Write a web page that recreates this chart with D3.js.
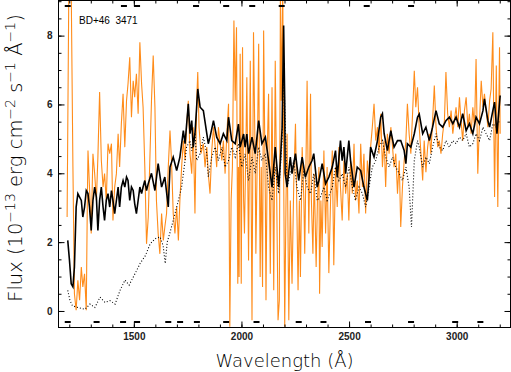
<!DOCTYPE html>
<html>
<head>
<meta charset="utf-8">
<script src="https://cdn.jsdelivr.net/npm/d3@7"></script>
<style>
  body { margin: 0; background: #fff; }
  svg { display: block; }
</style>
</head>
<body>
<svg width="511" height="372"></svg>
<script>
// wavelength (A), flux (1e-13 erg cm-2 s-1 A-1)
const fluxOrange = [
  [1190,2.73],[1198,9.4],[1209,9.4],[1217,4.18],[1224,0.50],[1232,0.02],[1240,0.89],[1248,0.31],
  [1256,1.28],[1263,0.70],[1271,1.08],[1279,0.02],[1284,3.21],[1287,4.66],[1294,3.60],[1302,2.25],
  [1310,4.57],[1318,3.99],[1326,3.21],[1333,4.47],[1341,6.36],[1349,4.37],[1357,3.60],[1364,3.99],
  [1372,3.21],[1380,4.86],[1388,4.57],[1396,4.86],[1403,2.63],[1411,3.60],[1419,3.99],[1427,5.15],
  [1434,4.18],[1442,5.44],[1450,6.31],[1458,4.76],[1466,6.11],[1473,6.60],[1481,7.37],[1489,5.63],
  [1497,6.69],[1504,6.21],[1512,6.89],[1520,5.73],[1528,7.81],[1536,6.60],[1543,5.92],[1551,4.18],
  [1559,1.95],[1567,2.73],[1574,4.30],[1582,6.11],[1590,7.42],[1598,5.92],[1605,3.21],[1613,2.25],
  [1621,1.66],[1629,2.83],[1637,2.05],[1644,2.44],[1652,2.83],[1660,4.18],[1668,5.24],[1675,4.37],
  [1683,2.83],[1691,2.25],[1699,3.02],[1707,2.05],[1714,3.21],[1722,4.18],[1730,4.95],[1738,4.37],
  [1745,5.34],[1753,6.11],[1761,4.57],[1769,3.99],[1776,5.34],[1784,2.83],[1792,6.11],[1797,6.94],
  [1803,5.34],[1812,4.57],[1823,4.86],[1831,4.18],[1839,4.76],[1846,3.99],[1854,3.41],[1862,4.66],
  [1870,5.34],[1878,4.76],[1885,4.18],[1893,5.34],[1901,4.86],[1909,4.37],[1916,4.95],[1924,3.99],
  [1932,5.15],[1940,6.02],[1946,-0.46],[1952,3.21],[1958,4.18],[1965,8.44],[1971,6.11],[1977,8.24],
  [1983,0.79],[1986,4.18],[1989,0.99],[1994,7.47],[1999,0.79],[2005,7.66],[2010,3.21],[2014,2.25],
  [2021,4.95],[2025,6.79],[2033,1.47],[2041,7.27],[2049,-0.27],[2056,8.10],[2064,4.18],[2067,1.66],
  [2075,5.15],[2080,7.76],[2087,0.99],[2092,4.18],[2098,0.70],[2103,8.15],[2111,3.21],[2114,0.31],
  [2120,4.66],[2126,6.31],[2134,1.08],[2142,6.50],[2150,0.60],[2157,7.27],[2164,3.21],[2170,-0.27],
  [2176,0.31],[2181,9.4],[2185,6.11],[2192,9.4],[2196,4.18],[2201,-0.46],[2207,3.21],[2212,5.15],
  [2220,-0.27],[2227,3.21],[2235,0.79],[2243,3.70],[2251,5.44],[2258,2.73],[2263,0.60],[2269,3.21],
  [2274,0.99],[2282,4.76],[2290,3.21],[2294,1.66],[2305,6.69],[2313,2.25],[2321,6.31],[2325,3.21],
  [2332,1.66],[2338,3.99],[2347,1.28],[2353,3.21],[2360,4.18],[2363,0.50],[2369,3.21],[2375,1.86],
  [2383,4.66],[2391,2.25],[2398,4.18],[2406,1.10],[2414,3.21],[2422,4.66],[2429,1.33],[2437,4.18],
  [2445,3.02],[2453,4.76],[2460,3.60],[2468,2.63],[2476,4.37],[2484,3.41],[2492,3.99],[2499,2.63],
  [2507,4.37],[2515,3.41],[2523,4.86],[2530,3.21],[2538,3.79],[2546,2.83],[2554,4.86],[2562,3.60],
  [2569,4.57],[2577,2.83],[2585,4.37],[2593,3.79],[2600,4.76],[2608,5.34],[2616,6.02],[2624,4.95],
  [2632,5.34],[2639,4.57],[2647,5.73],[2655,4.18],[2663,4.95],[2670,3.60],[2678,5.15],[2686,4.57],
  [2694,5.34],[2702,4.76],[2709,4.18],[2717,4.57],[2725,3.41],[2733,4.37],[2740,2.44],[2748,3.60],
  [2756,4.37],[2764,4.95],[2771,6.02],[2779,5.15],[2787,4.57],[2795,5.73],[2803,6.98],[2810,5.92],
  [2818,6.50],[2826,5.34],[2834,4.57],[2842,3.79],[2849,4.95],[2857,4.03],[2865,4.76],[2873,5.15],
  [2880,4.57],[2888,5.53],[2896,6.55],[2904,5.34],[2912,4.76],[2919,4.95],[2927,4.57],[2935,5.15],
  [2943,5.53],[2950,6.94],[2958,5.73],[2966,5.34],[2974,5.82],[2982,5.15],[2989,5.53],[2997,5.92],
  [3005,5.34],[3013,6.21],[3020,5.53],[3028,4.95],[3036,5.82],[3044,6.21],[3052,5.34],[3059,5.73],
  [3067,5.15],[3075,5.92],[3083,5.34],[3090,7.32],[3098,3.99],[3106,5.53],[3114,6.69],[3122,5.92],
  [3129,6.31],[3137,5.82],[3145,5.34],[3153,6.11],[3160,6.45],[3168,8.10],[3176,3.31],[3184,7.13],
  [3191,3.02],[3196,6.11],[3199,7.66],[3202,5.15]
];

const fluxSolid = [
  [1193,2.05],[1201,1.47],[1209,0.79],[1217,0.70],[1224,1.28],[1232,3.02],[1240,3.41],[1248,3.31],
  [1256,3.21],[1263,2.73],[1271,3.02],[1279,3.50],[1287,3.41],[1294,3.02],[1302,2.34],[1310,3.21],
  [1318,3.60],[1326,3.31],[1333,2.34],[1341,3.21],[1349,3.60],[1357,3.02],[1364,2.63],[1372,3.21],
  [1380,3.41],[1388,3.02],[1396,3.50],[1403,3.21],[1411,2.83],[1419,3.21],[1427,3.60],[1434,3.02],
  [1442,3.60],[1450,3.79],[1458,3.60],[1466,3.89],[1473,3.79],[1481,3.21],[1489,3.60],[1497,3.50],
  [1504,3.12],[1512,2.83],[1520,3.21],[1528,3.60],[1536,3.41],[1543,3.60],[1551,3.79],[1559,3.50],
  [1567,3.70],[1582,4.00],[1598,3.50],[1613,4.28],[1629,3.60],[1644,3.89],[1660,3.02],[1668,4.18],
  [1683,4.47],[1699,4.08],[1714,4.47],[1730,5.24],[1738,4.86],[1753,6.02],[1761,5.15],[1769,5.53],
  [1776,4.76],[1784,5.15],[1797,6.45],[1808,5.92],[1823,5.82],[1839,5.15],[1846,4.86],[1854,5.05],
  [1870,5.53],[1885,5.05],[1901,4.86],[1916,5.15],[1932,4.95],[1940,5.63],[1955,4.95],[1971,4.86],
  [1986,5.43],[1994,4.76],[2010,5.14],[2017,4.76],[2025,5.14],[2033,4.57],[2049,5.05],[2064,4.57],
  [2080,5.53],[2095,4.86],[2111,5.05],[2126,4.37],[2142,3.60],[2157,4.76],[2173,3.60],[2181,4.37],
  [2189,5.34],[2196,8.29],[2201,6.11],[2203,4.00],[2212,3.60],[2227,4.47],[2235,3.99],[2251,4.57],
  [2266,3.79],[2282,4.47],[2297,3.89],[2313,4.18],[2328,4.37],[2336,4.57],[2352,3.60],[2360,3.79],
  [2375,4.28],[2391,3.70],[2406,3.89],[2422,4.18],[2437,4.66],[2445,3.89],[2460,4.95],[2468,4.37],
  [2476,4.76],[2484,3.99],[2499,4.95],[2507,4.37],[2523,3.60],[2538,4.18],[2554,4.08],[2569,3.60],
  [2585,3.21],[2593,3.89],[2600,4.76],[2616,4.47],[2632,4.95],[2647,5.63],[2655,5.73],[2663,5.15],
  [2678,4.66],[2694,5.24],[2709,4.76],[2725,4.95],[2740,4.95],[2756,4.66],[2764,4.28],[2771,4.86],
  [2787,4.76],[2803,5.15],[2818,5.63],[2826,5.72],[2842,5.15],[2857,5.34],[2873,4.95],[2888,5.34],
  [2904,5.82],[2919,5.44],[2935,5.34],[2950,5.53],[2966,5.63],[2982,5.44],[2997,5.63],[3013,5.34],
  [3028,5.73],[3044,5.24],[3059,5.44],[3075,5.15],[3090,5.63],[3106,5.44],[3122,5.82],[3129,6.16],
  [3145,5.53],[3153,5.34],[3168,5.82],[3176,6.07],[3187,5.15],[3196,5.82],[3202,6.26]
];

const fluxDotted = [
  [1193,0.60],[1203,0.31],[1215,0.15],[1240,0.10],[1273,0.05],[1296,0.20],[1319,0.10],[1343,0.40],
  [1366,0.25],[1389,0.30],[1413,0.20],[1436,0.60],[1459,0.90],[1478,0.75],[1497,0.98],[1515,1.20],
  [1529,1.38],[1553,1.60],[1576,1.95],[1599,2.10],[1622,2.15],[1636,1.90],[1646,1.38],[1655,2.00],
  [1669,2.30],[1683,2.63],[1707,3.21],[1722,3.60],[1730,3.99],[1738,4.37],[1745,4.76],[1761,4.95],
  [1769,4.66],[1784,5.15],[1792,4.37],[1808,4.57],[1823,5.05],[1839,4.57],[1846,3.89],[1862,4.47],
  [1878,4.76],[1893,4.37],[1909,4.76],[1924,4.18],[1940,4.37],[1955,4.76],[1971,4.47],[1986,4.86],
  [2002,4.18],[2017,4.57],[2033,3.79],[2049,4.47],[2064,3.99],[2080,4.76],[2095,4.37],[2111,4.57],
  [2126,3.60],[2142,3.21],[2157,4.18],[2173,3.41],[2189,4.95],[2196,7.08],[2212,3.60],[2227,3.99],
  [2243,4.37],[2258,3.60],[2274,3.21],[2290,4.08],[2305,3.60],[2321,3.41],[2336,3.99],[2352,3.21],
  [2367,3.31],[2383,3.60],[2398,3.21],[2422,3.60],[2437,4.18],[2453,3.79],[2468,3.99],[2484,3.60],
  [2499,4.18],[2515,3.60],[2530,3.21],[2546,3.60],[2562,3.41],[2577,3.02],[2593,3.60],[2608,4.18],
  [2624,4.37],[2639,4.76],[2655,4.95],[2670,4.47],[2686,4.18],[2702,4.47],[2717,4.18],[2733,3.99],
  [2748,3.79],[2764,4.18],[2779,3.60],[2790,2.44],[2803,4.37],[2818,4.95],[2826,4.76],[2842,4.18],
  [2857,4.47],[2873,4.28],[2888,4.76],[2904,5.15],[2919,4.76],[2935,4.66],[2950,4.95],[2966,4.76],
  [2982,4.95],[2997,4.86],[3013,5.05],[3028,4.95],[3044,5.15],[3059,4.76],[3075,4.86],[3090,5.15],
  [3106,4.95],[3122,5.34],[3137,5.15],[3153,4.95],[3168,5.44],[3184,5.34],[3199,5.53]
];

const xMajor = [1500, 2000, 2500, 3000];
const xMinor = d3.range(1200, 3201, 100);
const yMajor = [0, 2, 4, 6, 8];
const yMinor = d3.range(0, 9.01, 0.5);
const topMarks = [1193, 1454, 1515, 1789, 1929, 2050, 2187, 2582, 2788];
const bottomMarks = [1193, 1327, 1450, 1515, 1660, 1715, 1793, 1929, 2070, 2266, 2381, 2588, 2788, 2993, 3110];
const starName = "BD+46  3471";

const svg = d3.select("svg");
const pLeft = 58.5, pRight = 510.5, pTop = 0.5, pBottom = 327.5;

const x = d3.scaleLinear().domain([1150, 3250]).range([pLeft, pRight]);
const y = d3.scaleLinear().domain([-0.48, 9.02]).range([pBottom, pTop]);

svg.append("clipPath").attr("id", "plot")
  .append("rect")
  .attr("x", pLeft).attr("y", pTop)
  .attr("width", pRight - pLeft).attr("height", pBottom - pTop);

const line = d3.line().x(d => x(d[0])).y(d => y(d[1]));

const plot = svg.append("g").attr("clip-path", "url(#plot)");

plot.append("path")
  .datum(fluxOrange)
  .attr("d", line)
  .attr("fill", "none")
  .attr("stroke", "#ff8c1a")
  .attr("stroke-width", 1.1);

plot.append("path")
  .datum(fluxDotted)
  .attr("d", line)
  .attr("fill", "none")
  .attr("stroke", "#000")
  .attr("stroke-width", 1.1)
  .attr("stroke-dasharray", "1,2");

plot.append("path")
  .datum(fluxSolid)
  .attr("d", line)
  .attr("fill", "none")
  .attr("stroke", "#000")
  .attr("stroke-width", 1.6);

// flag marks along top and bottom
plot.append("g").selectAll("rect")
  .data(topMarks)
  .join("rect")
  .attr("x", d => x(d) - 3)
  .attr("y", 5)
  .attr("width", 6)
  .attr("height", 2)
  .attr("fill", "#000");

plot.append("g").selectAll("rect")
  .data(bottomMarks)
  .join("rect")
  .attr("x", d => x(d) - 3)
  .attr("y", 321)
  .attr("width", 6)
  .attr("height", 2)
  .attr("fill", "#000");

// axes, ticks pointing inward
function addAxis(axis, tx, ty) {
  const g = svg.append("g")
    .attr("transform", `translate(${tx},${ty})`)
    .call(axis);
  g.select(".domain").remove();
  g.selectAll("line").attr("stroke", "#000");
  g.selectAll("text")
    .style("font-family", "Liberation Sans, Arial, sans-serif")
    .style("font-size", "10px")
    .style("font-weight", "bold")
    .attr("fill", "#222");
  return g;
}

addAxis(d3.axisBottom(x).tickValues(xMinor).tickSize(-3).tickFormat(""), 0, pBottom);
addAxis(d3.axisBottom(x).tickValues(xMajor).tickSize(-6).tickPadding(5).tickFormat(d3.format("d")), 0, pBottom);
addAxis(d3.axisTop(x).tickValues(xMinor).tickSize(-3).tickFormat(""), 0, pTop);
addAxis(d3.axisTop(x).tickValues(xMajor).tickSize(-6).tickFormat(""), 0, pTop);

addAxis(d3.axisLeft(y).tickValues(yMinor).tickSize(-3).tickFormat(""), pLeft, 0);
addAxis(d3.axisLeft(y).tickValues(yMajor).tickSize(-6).tickPadding(6), pLeft, 0);
addAxis(d3.axisRight(y).tickValues(yMinor).tickSize(-3).tickFormat(""), pRight, 0);
addAxis(d3.axisRight(y).tickValues(yMajor).tickSize(-6).tickFormat(""), pRight, 0);

svg.append("rect")
  .attr("x", pLeft).attr("y", pTop)
  .attr("width", pRight - pLeft).attr("height", pBottom - pTop)
  .attr("fill", "none")
  .attr("stroke", "#000")
  .attr("stroke-width", 1);

svg.append("text")
  .attr("x", 79).attr("y", 24)
  .style("font-family", "Liberation Sans, Arial, sans-serif")
  .style("font-size", "10px")
  .style("white-space", "pre")
  .attr("fill", "#000")
  .text(starName);

svg.append("text")
  .attr("x", (pLeft + pRight) / 2).attr("y", 367)
  .attr("text-anchor", "middle")
  .style("font-family", "DejaVu Sans, sans-serif")
  .style("font-size", "18px")
  .style("font-weight", "200")
  .attr("fill", "#000")
  .text("Wavelength (Å)");

const ylab = svg.append("text")
  .attr("transform", "translate(22,158) rotate(-90)")
  .attr("text-anchor", "middle")
  .style("font-family", "DejaVu Sans, sans-serif")
  .style("font-size", "19.5px")
  .style("font-weight", "200")
  .attr("fill", "#000");

const parts = [["Flux (10", false], ["−13", true], [" erg cm", false], ["−2", true],
  [" s", false], ["−1", true], [" Å", false], ["−1", true], [")", false]];
parts.forEach(([t, sup]) => {
  ylab.append("tspan")
    .attr("baseline-shift", sup ? "50%" : null)
    .style("font-size", sup ? "14px" : null)
    .text(t);
});
</script>
</body>
</html>
